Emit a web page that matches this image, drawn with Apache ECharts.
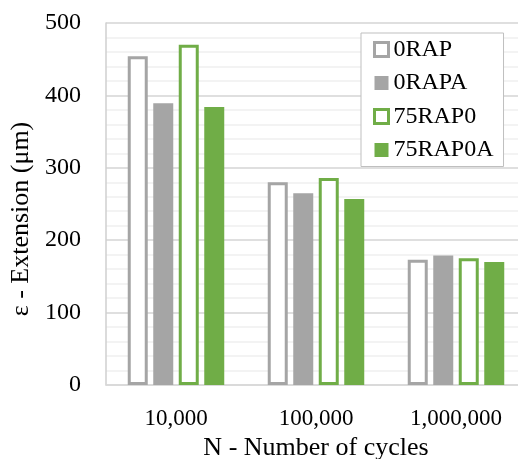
<!DOCTYPE html>
<html>
<head>
<meta charset="utf-8">
<script src="https://cdn.jsdelivr.net/npm/echarts@6/dist/echarts.min.js"></script>
<style>
html,body{margin:0;padding:0;background:#fff;}
#chart{width:518px;height:459px;}
</style>
</head>
<body>
<div id="chart"></div>
<script>
const categories = ['10,000', '100,000', '1,000,000'];
const seriesNames = ['0RAP', '0RAPA', '75RAP0', '75RAP0A'];
const val0RAP = [454, 280, 173];
const val0RAPA = [389, 265, 179];
const val75RAP0 = [470, 286, 175];
const val75RAP0A = [384, 257, 170];
const yTicks = [0, 100, 200, 300, 400, 500];

const GRAY = '#A5A5A5';
const GREEN = '#70AD47';
const FONT = '"Liberation Serif", "DejaVu Serif", serif';

const chart = echarts.init(document.getElementById('chart'), null, {renderer: 'canvas'});

function outlined(name, data, color) {
  return {
    name: name, type: 'bar', data: data, barWidth: 20, barGap: '27.5%',
    itemStyle: {color: '#fff', borderColor: color, borderWidth: 3},
    z: 3
  };
}
function filled(name, data, color) {
  return {
    name: name, type: 'bar', data: data, barWidth: 20, barGap: '27.5%',
    itemStyle: {color: color, borderWidth: 0},
    z: 2
  };
}

chart.setOption({
  animation: false,
  backgroundColor: '#fff',
  textStyle: {fontFamily: FONT},
  grid: {left: 106, top: 23, width: 420, height: 362, containLabel: false, outerBoundsMode: 'none'},
  legend: {
    orient: 'vertical', left: 361, top: 33,
    padding: [4.5, 10, 4.5, 12],
    itemWidth: 14, itemHeight: 14, itemGap: 9.5,
    borderColor: '#BFBFBF', borderWidth: 1,
    backgroundColor: '#fff',
    textStyle: {fontFamily: FONT, fontSize: 24, color: '#000', lineHeight: 23, width: 100},
    data: [
      {name: seriesNames[0], icon: 'rect', itemStyle: {color: '#fff', borderColor: GRAY, borderWidth: 3}},
      {name: seriesNames[1], icon: 'rect'},
      {name: seriesNames[2], icon: 'rect', itemStyle: {color: '#fff', borderColor: GREEN, borderWidth: 3}},
      {name: seriesNames[3], icon: 'rect'}
    ]
  },
  xAxis: {
    type: 'category', data: categories,
    axisLine: {show: true, lineStyle: {color: '#D9D9D9', width: 1.5}},
    axisTick: {show: false},
    axisLabel: {fontFamily: FONT, fontSize: 23, color: '#000', margin: 22},
    name: 'N - Number of cycles', nameLocation: 'middle', nameGap: 49,
    nameTextStyle: {fontFamily: FONT, fontSize: 26, color: '#000'},
    splitLine: {show: false}
  },
  yAxis: {
    type: 'value', min: yTicks[0], max: yTicks[yTicks.length - 1], interval: 100,
    axisLine: {show: true, lineStyle: {color: '#CFCFCF', width: 1.5}},
    axisTick: {show: false},
    axisLabel: {fontFamily: FONT, fontSize: 24, color: '#000', margin: 25},
    splitLine: {show: true, lineStyle: {color: '#D4D4D4', width: 1.5}},
    minorTick: {show: false, splitNumber: 5},
    minorSplitLine: {show: true, lineStyle: {color: '#F0F0F0', width: 1.5}},
    name: 'ε - Extension (μm)', nameLocation: 'middle', nameGap: 67, nameRotate: 90,
    nameTextStyle: {fontFamily: FONT, fontSize: 26, color: '#000', padding: [0, 30, 0, 0]}
  },
  series: [
    outlined(seriesNames[0], val0RAP, GRAY),
    filled(seriesNames[1], val0RAPA, GRAY),
    outlined(seriesNames[2], val75RAP0, GREEN),
    filled(seriesNames[3], val75RAP0A, GREEN)
  ]
});
</script>
</body>
</html>
